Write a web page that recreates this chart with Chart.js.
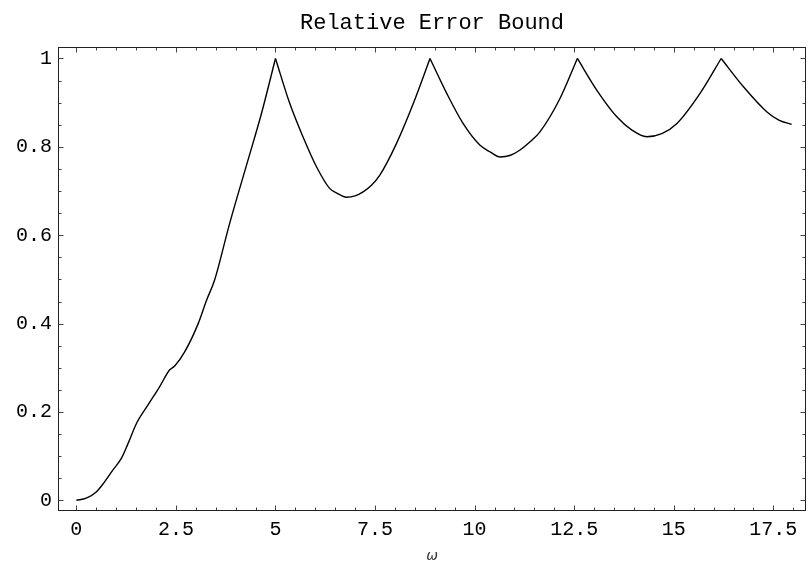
<!DOCTYPE html>
<html>
<head>
<meta charset="utf-8">
<script src="https://cdn.jsdelivr.net/npm/chart.js@4.4.1/dist/chart.umd.min.js"></script>
<style>
html,body{margin:0;padding:0;background:#fff;}
#wrap{width:808px;height:563px;position:relative;}
</style>
</head>
<body>
<div id="wrap"><canvas id="c"></canvas></div>
<script>
const omega = [0, 0.25, 0.5, 0.71, 0.92, 1.13, 1.3, 1.51, 1.8, 2.09, 2.34, 2.47, 2.72, 3.06, 3.27, 3.47, 3.85, 4.31, 4.65, 5.0,
  5.36, 5.69, 6.03, 6.36, 6.55, 6.78, 7.0, 7.2, 7.41, 7.62, 8.04, 8.46, 8.88,
  9.3, 9.71, 10.13, 10.4, 10.64, 10.9, 11.14, 11.4, 11.64, 12.14, 12.58,
  13.07, 13.57, 13.95, 14.32, 14.7, 15.08, 15.66, 16.19, 16.75, 17.34, 17.65, 17.96];
const bound = [0, 0.005, 0.019, 0.042, 0.069, 0.095, 0.129, 0.174, 0.216, 0.257, 0.295, 0.304, 0.336, 0.40, 0.453, 0.498, 0.627, 0.770, 0.876, 1.0,
  0.898, 0.823, 0.755, 0.706, 0.695, 0.686, 0.689, 0.698, 0.713, 0.736, 0.808, 0.898, 1.0,
  0.921, 0.853, 0.804, 0.788, 0.777, 0.781, 0.793, 0.812, 0.834, 0.909, 1.0,
  0.928, 0.868, 0.838, 0.823, 0.830, 0.853, 0.921, 1.0, 0.936, 0.879, 0.860, 0.851];
const xTicks = [0, 2.5, 5, 7.5, 10, 12.5, 15, 17.5];
const yTicks = [0, 0.2, 0.4, 0.6, 0.8, 1];
const xMinorStep = 0.5;
const yMinorStep = 0.05;
const xRange = [-0.46, 18.32];
const yRange = [-0.024, 1.026];

const FONT = "'Liberation Mono', 'DejaVu Sans Mono', monospace";

// split the curve at its cusps (the peaks, value 1) so that each arc is smooth but the cusps stay sharp
const cuts = [0];
bound.forEach((v, i) => { if (i > 0 && i < bound.length - 1 && v >= bound[i - 1] && v >= bound[i + 1]) cuts.push(i); });
cuts.push(bound.length - 1);
const datasets = [];
for (let k = 0; k < cuts.length - 1; k++) {
  const pts = [];
  for (let i = cuts[k]; i <= cuts[k + 1]; i++) pts.push({x: omega[i], y: bound[i]});
  datasets.push({
    data: pts,
    borderColor: '#000',
    borderWidth: 1.4,
    pointRadius: 0,
    cubicInterpolationMode: 'monotone',
    fill: false
  });
}

const frameTicks = {
  id: 'frameTicks',
  afterDraw(chart) {
    const {ctx, chartArea: a, scales: {x, y}} = chart;
    ctx.save();
    ctx.lineWidth = 1;
    ctx.strokeStyle = '#444';
    const L = Math.round(a.left) + 0.5, R = Math.round(a.right) - 0.5;
    const T = Math.round(a.top) + 0.5, B = Math.round(a.bottom) - 0.5;
    ctx.beginPath();
    const isMajor = (v, arr) => arr.some(t => Math.abs(t - v) < 1e-6);
    for (let i = Math.ceil(xRange[0] / xMinorStep); i * xMinorStep <= xRange[1]; i++) {
      const v = i * xMinorStep;
      const len = isMajor(v, xTicks) ? 5 : 3;
      const px = Math.round(x.getPixelForValue(v)) + 0.5;
      ctx.moveTo(px, B); ctx.lineTo(px, B - len);
      ctx.moveTo(px, T); ctx.lineTo(px, T + len);
    }
    for (let i = Math.ceil(yRange[0] / yMinorStep); i * yMinorStep <= yRange[1] + 1e-9; i++) {
      const v = i * yMinorStep;
      const len = isMajor(v, yTicks) ? 5 : 3;
      const py = Math.round(y.getPixelForValue(v)) + 0.5;
      ctx.moveTo(L, py); ctx.lineTo(L + len, py);
      ctx.moveTo(R, py); ctx.lineTo(R - len, py);
    }
    ctx.stroke();
    ctx.strokeStyle = '#222';
    ctx.strokeRect(L, T, R - L, B - T);
    ctx.restore();
  }
};

new Chart(document.getElementById('c'), {
  type: 'line',
  data: {datasets},
  options: {
    responsive: true,
    maintainAspectRatio: false,
    animation: false,
    layout: {padding: {left: 0, right: 2, top: 0, bottom: 0}},
    plugins: {
      legend: {display: false},
      tooltip: {enabled: false},
      title: {
        display: true,
        text: 'Relative Error Bound',
        fullSize: false,
        color: '#000',
        font: {family: FONT, size: 22, weight: 'normal'},
        padding: {top: 10, bottom: 10.6}
      }
    },
    scales: {
      x: {
        type: 'linear',
        min: xRange[0],
        max: xRange[1],
        afterBuildTicks: s => { s.ticks = xTicks.map(v => ({value: v})); },
        afterFit: s => { s.height = 52; },
        grid: {display: false, drawTicks: false},
        border: {display: false},
        ticks: {
          color: '#000',
          font: {family: FONT, size: 20},
          padding: 7,
          maxRotation: 0,
          autoSkip: false,
          callback: v => String(v)
        },
        title: {
          display: true,
          text: 'ω',
          color: '#333',
          font: {family: "'DejaVu Sans', sans-serif", size: 14, style: 'italic'},
          padding: {top: 0, bottom: -2}
        }
      },
      y: {
        type: 'linear',
        min: yRange[0],
        max: yRange[1],
        afterBuildTicks: s => { s.ticks = yTicks.map(v => ({value: v})); },
        afterFit: s => { s.width = 58; },
        grid: {display: false, drawTicks: false},
        border: {display: false},
        ticks: {
          color: '#000',
          font: {family: FONT, size: 20},
          padding: 6,
          autoSkip: false,
          callback: v => String(v)
        }
      }
    }
  },
  plugins: [frameTicks]
});
</script>
</body>
</html>
